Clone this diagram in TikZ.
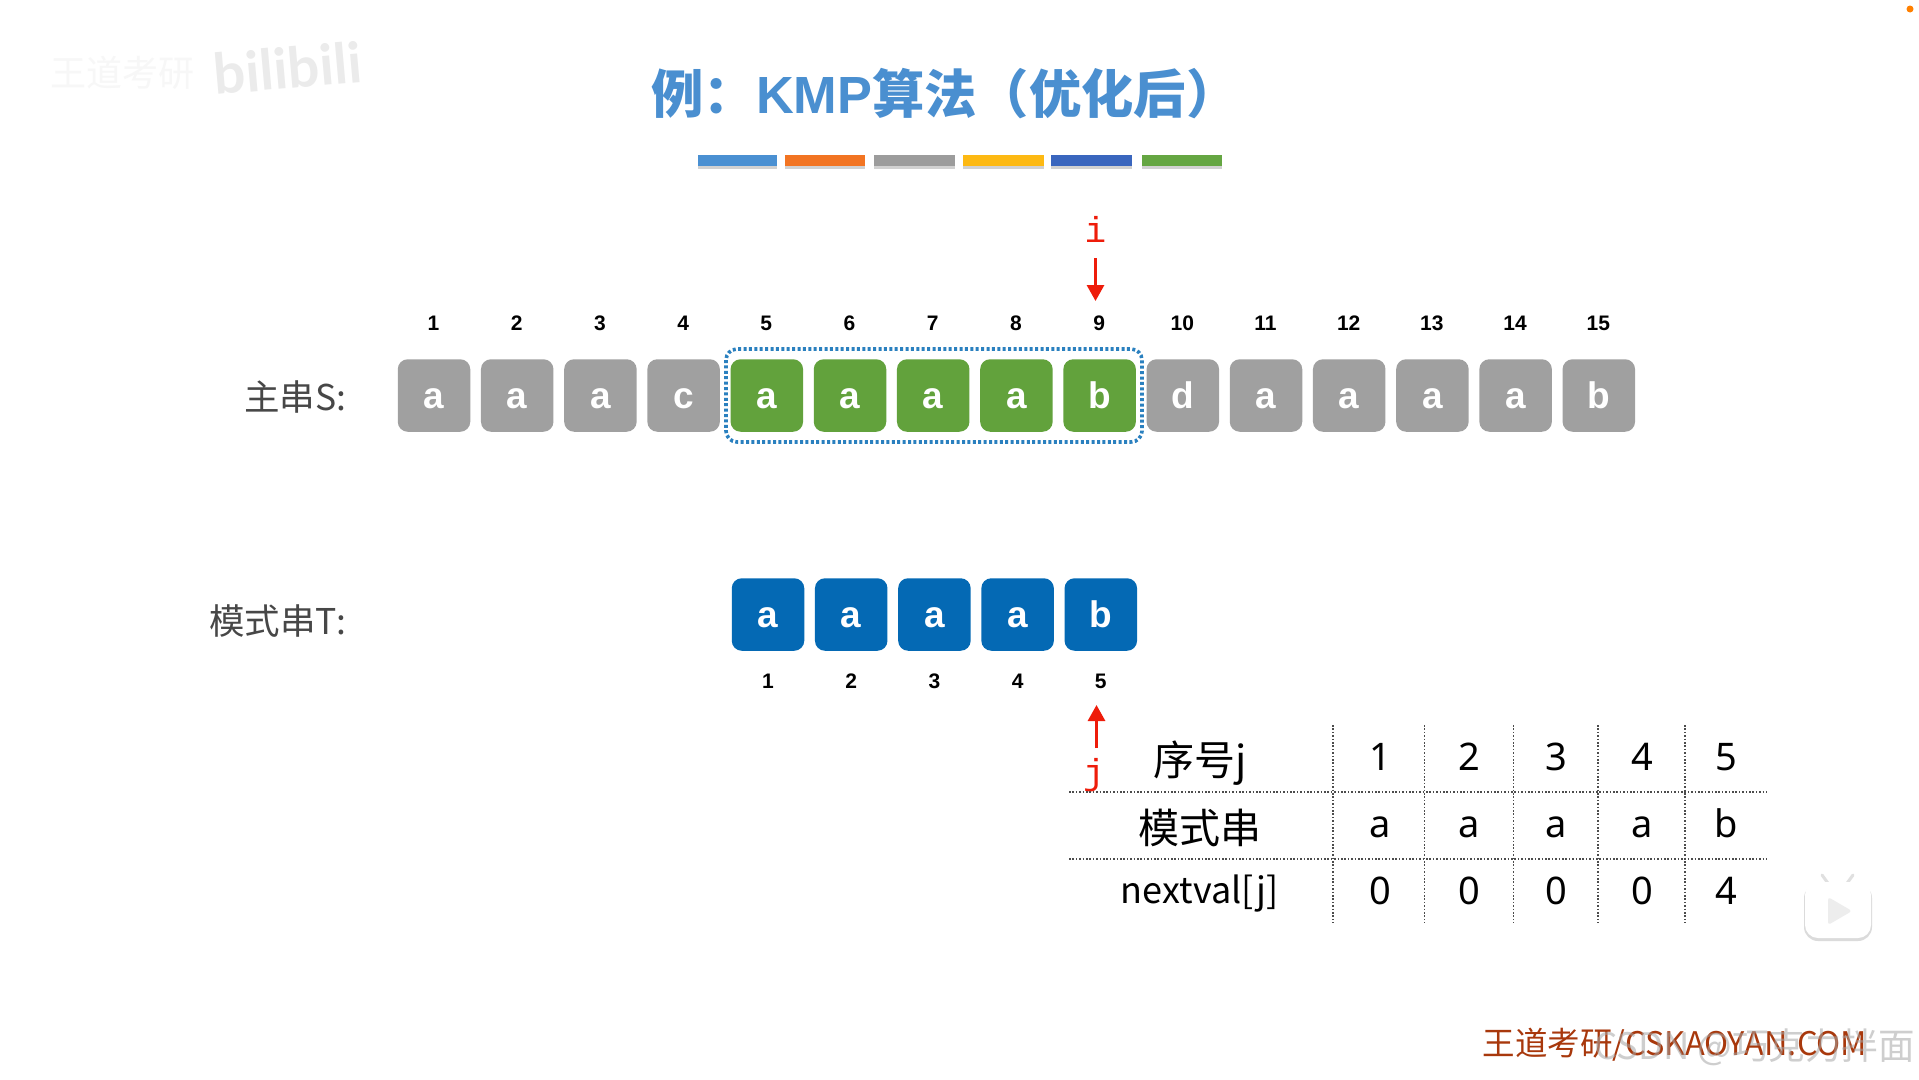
\documentclass[tikz,border=0pt]{standalone}
\usepackage{fontspec}
\usetikzlibrary{arrows.meta}
\setmainfont{Liberation Sans}
\newfontfamily\cjkf{Noto Sans CJK SC}
\newfontfamily\tabf{Noto Sans}
\newfontfamily\monof{Liberation Mono}
\newfontfamily\logof{Lato}
\newcommand{\fsz}[1]{\fontsize{#1}{#1}\selectfont}
\definecolor{boxgray}{HTML}{A0A0A0}
\definecolor{boxgreen}{HTML}{62A23C}
\definecolor{boxblue}{HTML}{0469B4}
\definecolor{titleblue}{HTML}{4A8FD0}
\definecolor{ptred}{HTML}{EE1C0A}
\definecolor{footred}{HTML}{A8380C}
\tikzset{
  cell/.style={minimum width=72.5pt,minimum height=72.5pt,rounded corners=10pt,inner sep=0pt,text=white,text height=25pt,text depth=0pt,font=\bfseries\fsz{37}},
  graycell/.style={cell,fill=boxgray},
  greencell/.style={cell,fill=boxgreen},
  bluecell/.style={cell,fill=boxblue},
  idx/.style={inner sep=0pt,text=black,font=\bfseries\fsz{21}},
  lbl/.style={inner sep=0pt,text=black!72,font=\cjkf\fsz{35.5},anchor=east},
  tabtxt/.style={inner sep=0pt,text=black,font=\tabf\fsz{38},anchor=base},
  tablbl/.style={inner sep=0pt,text=black,font=\cjkf\fsz{41}},
  bar/.style={minimum height=10.5pt,inner sep=0pt,anchor=west},
  ptr/.style={draw=ptred,line width=3pt,-{Triangle[length=16pt,width=17pt,fill=ptred]}},
  ptrtxt/.style={inner sep=0pt,text=ptred,font=\monof\fsz{36}},
  grid/.style={draw=black!70,line width=1.6pt,dash pattern=on 1.6pt off 1.8pt}
}
\begin{document}
\begin{tikzpicture}[x=1pt,y=-1pt]
\path[fill=white,use as bounding box] (0,0) rectangle (1919,1079);
% watermarks
\node[inner sep=0pt,text=black!3,font=\cjkf\fsz{36}] (wm1) at (122,73) {王道考研};
\node[inner sep=0pt,text=black!8,font=\logof\bfseries\fsz{56},rotate=5] (wm2) at (288,68) {bilibili};
% title
\node[inner sep=0pt,text=titleblue,font=\cjkf\bfseries\fsz{52.3}] (title) at (945,94) {例：{\rmfamily\bfseries KMP}算法（优化后）};
% colour bars
\foreach \n/\xa/\xb/\c in {a/698/777/4A90D2,b/785/865/F27422,c/874/955/9C9C9C,d/963/1044/FDB913,e/1051/1132/3A66BE,f/1142/1222/65A642}{
  \definecolor{barc}{HTML}{\c}
  \fill[black,opacity=.18] (\xa,159) rectangle (\xb,169);
  \node[bar,fill=barc,minimum width={(\xb-\xa)*1pt}] (bar\n) at (\xa,160.5) {};
}
% main string
\foreach \i/\t/\s in {1/a/graycell,2/a/graycell,3/a/graycell,4/c/graycell,5/a/greencell,6/a/greencell,7/a/greencell,8/a/greencell,9/b/greencell,10/d/graycell,11/a/graycell,12/a/graycell,13/a/graycell,14/a/graycell,15/b/graycell}{
  \node[\s] (s\i) at ({434+83.2*(\i-1)},395.5) {\t};
  \node[idx] (sn\i) at ({433.5+83.2*(\i-1)},323) {\i};
}
\draw[draw=boxblue!85,line width=3.6pt,dash pattern=on 3pt off 2.4pt,rounded corners=11pt] (726,349) rectangle (1142,442);
% pattern string
\foreach \i/\t in {1/a,2/a,3/a,4/a,5/b}{
  \node[bluecell] (t\i) at ({768+83.2*(\i-1)},614.5) {\t};
  \node[idx] (tn\i) at ({768+83.2*(\i-1)},681) {\i};
}
\node[lbl] (ls) at (346.5,397) {主串S:};
\node[lbl] (lt) at (346.5,621) {模式串T:};
% pointers
\node[ptrtxt] (pi) at (1095.5,229) {i};
\coordinate (ia) at (1095.5,258);
\coordinate (ib) at (1095.5,301);
\draw[ptr] (ia) -- (ib);
\node[ptrtxt] (pj) at (1094,775) {j};
\coordinate (ja) at (1096.5,748);
\coordinate (jb) at (1096.5,705);
\draw[ptr] (ja) -- (jb);
% table
\foreach \x in {1333,1424.5,1513.6,1598,1685}{\draw[grid] (\x,725) -- (\x,923);}
\foreach \y in {792,859}{\draw[grid] (1069,\y) -- (1767,\y);}
\node[tablbl] (r1) at (1200,763) {序号j};
\node[tablbl] (r2) at (1200,828) {模式串};
\node[tablbl,font=\cjkf\fsz{36}] (r3) at (1200,894) {nextval[j]};
\foreach \x/\p/\q/\r/\k in {1380/1/a/0/1,1469/2/a/0/2,1556/3/a/0/3,1642/4/a/0/4,1726/5/b/4/5}{
  \node[tabtxt] (c1\k) at (\x,770) {\p};
  \node[tabtxt] (c2\k) at (\x,837) {\q};
  \node[tabtxt] (c3\k) at (\x,904) {\r};
}
% play icon
\draw[black!12,line width=3pt,line cap=round] (1822,875) -- (1830,886) (1853,875) -- (1845,886);
\fill[black!14,rounded corners=14pt] (1804,884) rectangle (1872,941);
\fill[white,rounded corners=13pt] (1805,882) rectangle (1871,938);
\fill[black!7,rounded corners=3pt] (1828,897) -- (1852,911) -- (1828,925) -- cycle;
% footer
\node[inner sep=0pt,text=footred,font=\cjkf\fsz{32.5}] (foot) at (1675,1045) {王道考研/CSKAOYAN.COM};
\node[inner sep=0pt,text=black!35,opacity=.55,font=\cjkf\fsz{36.5},anchor=east] (wm3) at (1915,1047) {CSDN @巧克力拌面};
% dot
\fill[orange] (1910,9) circle (3.5);
\end{tikzpicture}
\end{document}
